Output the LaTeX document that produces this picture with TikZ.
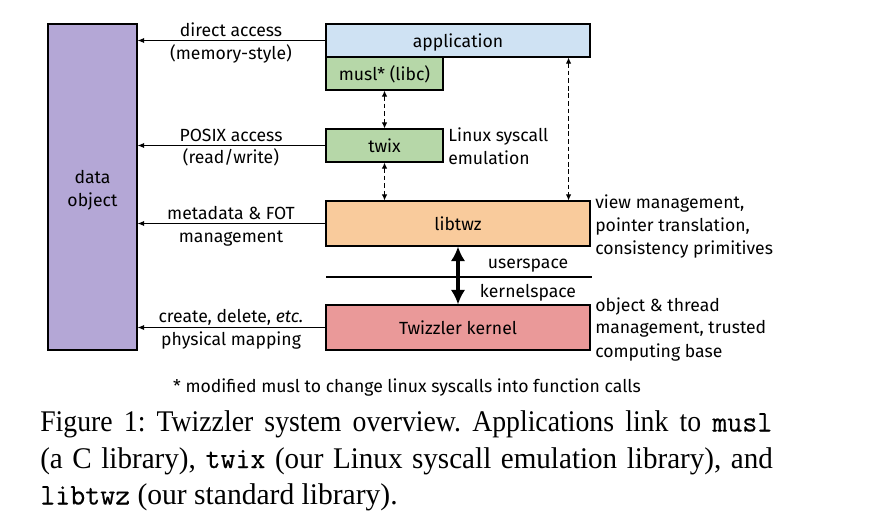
\documentclass[tikz,border=0pt]{standalone}
\usepackage{fontspec}
\setmainfont{Fira Sans}
\newfontfamily\capA[FakeStretch=0.925]{Liberation Serif}
\newfontfamily\capB[FakeStretch=0.97]{Liberation Serif}
\newfontfamily\capC[FakeStretch=0.985]{Liberation Serif}
\newfontfamily\capmono[FakeStretch=0.97,FakeBold=0.3]{Latin Modern Mono}
\usetikzlibrary{arrows.meta,fit}
\definecolor{cpurp}{HTML}{B4A7D6}
\definecolor{cblue}{HTML}{CFE2F3}
\definecolor{cgreen}{HTML}{B6D7A8}
\definecolor{corange}{HTML}{F9CB9C}
\definecolor{cred}{HTML}{EA9999}
\newcommand{\dfont}{\fontsize{13.2}{17.25}\selectfont}
\newcommand{\cmono}[1]{{\capmono #1}}
\tikzset{
  box/.style={draw, line width=0.8pt, inner sep=0pt, align=center, font=\dfont},
  lbl/.style={align=center, font=\dfont, inner sep=0pt, text height=10.4pt, text depth=0.6pt},
  rlbl/.style={align=left, anchor=north west, font=\dfont, inner sep=0pt},
  capline/.style={anchor=base west, inner sep=0pt, font=\fontsize{22.5}{27.4}\selectfont\frenchspacing},
  arr/.style={line width=0.8pt, -{Latex[length=5pt,width=4pt]}},
  darr/.style={line width=0.7pt, dash pattern=on 3.5pt off 2.2pt, {Latex[length=4.5pt,width=4pt]}-{Latex[length=4.5pt,width=4pt]}},
  tarr/.style={line width=3pt, {Latex[length=11pt,width=11pt]}-{Latex[length=11pt,width=11pt]}},
}
\begin{document}
\begin{tikzpicture}[x=0.75pt,y=-0.75pt]
\useasboundingbox (0,0) rectangle (877,514);
% boxes
\node[box, fill=cpurp, fit={(48,24) (137,350)}] (data) {};
\node[lbl, text height=, text depth=] at ([yshift=-2.3pt]data.center) {data\\object};
\node[box, fill=cblue, fit={(326,24) (590,57)}] (app) {};
\node[lbl] at (app.center) {application};
\node[box, fill=cgreen, fit={(326,57) (443,90)}] (musl) {};
\node[lbl] at (musl.center) {musl* (libc)};
\node[box, fill=cgreen, fit={(326,129) (443,162)}] (twix) {};
\node[lbl] at (twix.center) {twix};
\node[box, fill=corange, fit={(326,201) (590,246)}] (libtwz) {};
\node[lbl] at (libtwz.center) {libtwz};
\node[box, fill=cred, fit={(326,305) (590,350)}] (kernel) {};
\node[lbl] at (kernel.center) {Twizzler kernel};
% left arrows
\draw[arr] (app.west) -- (data.east |- app.west);
\draw[arr] (twix.west) -- (data.east |- twix.west);
\draw[arr] (libtwz.west) -- (data.east |- libtwz.west);
\draw[arr] (kernel.west) -- (data.east |- kernel.west);
\node[lbl] (l1a) at (231,30) {direct access};
\node[lbl] (l1b) at (231,53) {(memory-style)};
\node[lbl] (l2a) at (231,135) {POSIX access};
\node[lbl] (l2b) at (231,157) {(read/write)};
\node[lbl] (l3a) at (231,213) {metadata \& FOT};
\node[lbl] (l3b) at (231,236) {management};
\node[lbl] (l4a) at (231,316) {create, delete, \textit{etc.}};
\node[lbl] (l4b) at (231,339) {physical mapping};
% dashed arrows
\draw[darr] (musl.south) -- (twix.north);
\draw[darr] (twix.south) -- (twix.south |- libtwz.north);
\draw[darr] ([xshift=-16.5pt]app.south east) -- ([xshift=-16.5pt]libtwz.north east);
% user/kernel boundary
\coordinate (bl) at (326,277);
\coordinate (br) at (592,277);
\draw[line width=0.8pt] (bl) -- (br);
\draw[tarr] (libtwz.south) -- (kernel.north);
\node[lbl] (us) at (528,262) {userspace};
\node[lbl] (ks) at (528,291) {kernelspace};
% right labels
\node[rlbl] (r1) at (448,127.5) {Linux syscall\\emulation};
\node[rlbl] (r2) at (595,195) {view management,\\pointer translation,\\consistency primitives};
\node[rlbl] (r3) at (595,297) {object \& thread\\management, trusted\\computing base};
% footnote
\node[lbl] (fn) at (407,386) {* modified musl to change linux syscalls into function calls};
% caption
\node[capline] (cap1) at (40,431.5) {\hbox to 549pt{\capA Figure 1: Twizzler system overview. Applications link to \cmono{musl}}};
\node[capline] (cap2) at (40,468) {\hbox to 549.5pt{\capB (a C library), \cmono{twix} (our Linux syscall emulation library), and}};
\node[capline] (cap3) at (40,504.5) {\capC \cmono{libtwz} (our standard library).};
\end{tikzpicture}
\end{document}
